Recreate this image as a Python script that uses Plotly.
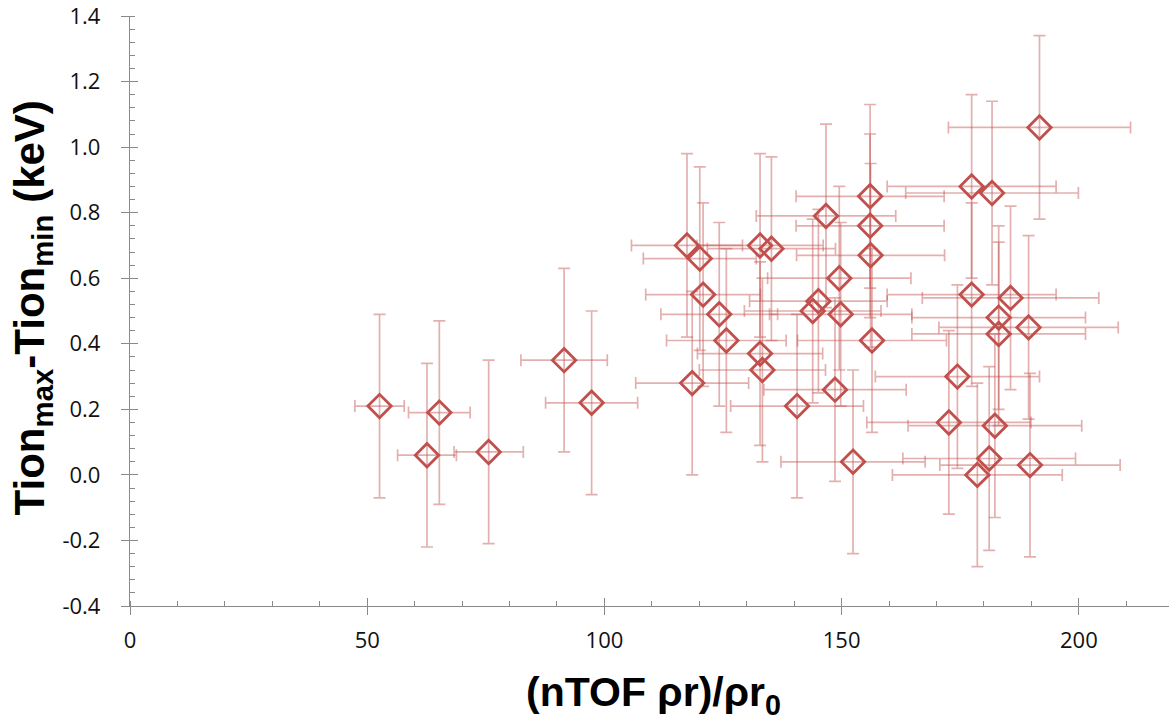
import plotly.graph_objects as go

# Data
x_vals = [52.6, 62.6, 65.2, 75.6, 91.5, 97.3, 117.4, 118.5, 120.1, 120.8,
          124.2, 125.7, 132.8, 135.2, 132.8, 133.3, 140.6, 143.9, 145.1, 146.7,
          148.6, 149.5, 149.8, 152.4, 156.0, 156.0, 156.1, 156.4, 172.6, 174.4,
          177.4, 177.4, 178.6, 181.1, 181.7, 182.3, 183.1, 183.1, 185.6, 189.4,
          189.7, 191.7]
y_vals = [0.21, 0.06, 0.19, 0.07, 0.35, 0.22, 0.70, 0.28, 0.66, 0.55,
          0.49, 0.41, 0.70, 0.69, 0.37, 0.32, 0.21, 0.50, 0.53, 0.79,
          0.26, 0.60, 0.49, 0.04, 0.85, 0.76, 0.67, 0.41, 0.16, 0.30,
          0.88, 0.55, 0.00, 0.05, 0.86, 0.15, 0.48, 0.43, 0.54, 0.45,
          0.03, 1.06]
x_err = [5.2, 6.2, 6.5, 7.3, 9.1, 9.7, 11.7, 11.9, 11.9, 12.1,
         12.3, 12.6, 13.3, 13.5, 13.2, 13.3, 14.0, 14.4, 14.5, 14.7,
         15.0, 15.1, 15.0, 15.2, 15.6, 15.6, 15.6, 15.7, 17.3, 17.3,
         17.8, 17.8, 17.9, 18.2, 18.2, 18.3, 18.3, 18.3, 18.6, 18.9,
         19.0, 19.2]
y_err = [0.28, 0.28, 0.28, 0.28, 0.28, 0.28, 0.28, 0.28, 0.28, 0.28,
         0.28, 0.28, 0.28, 0.28, 0.28, 0.28, 0.28, 0.28, 0.28, 0.28,
         0.28, 0.28, 0.28, 0.28, 0.28, 0.28, 0.28, 0.28, 0.28, 0.28,
         0.28, 0.28, 0.28, 0.28, 0.28, 0.28, 0.28, 0.28, 0.28, 0.28,
         0.28, 0.28]

x_tickvals = [0, 50, 100, 150, 200]
y_tickvals = [-0.4, -0.2, 0.0, 0.2, 0.4, 0.6, 0.8, 1.0, 1.2, 1.4]
y_ticktext = ["-0.4", "-0.2", "0.0", "0.2", "0.4", "0.6", "0.8", "1.0", "1.2", "1.4"]

marker_color = "#C0504D"
err_color = "rgba(192,80,77,0.45)"
axis_color = "#898989"
tick_font = dict(family="Open Sans", size=22, color="#111111")
xtitle_font = dict(family="Liberation Sans, Arial, sans-serif", size=41, color="#000000", weight="bold")
ytitle_font = dict(family="Liberation Sans, Arial, sans-serif", size=42, color="#000000", weight="bold")

fig = go.Figure()
fig.add_trace(go.Scatter(
    x=x_vals, y=y_vals, mode="markers",
    marker=dict(symbol="diamond-open", size=18, color=marker_color,
                line=dict(width=2.8, color=marker_color)),
    error_x=dict(type="data", array=x_err, visible=True, color=err_color,
                 thickness=1.7, width=6),
    error_y=dict(type="data", array=y_err, visible=True, color=err_color,
                 thickness=1.7, width=6),
    showlegend=False, hoverinfo="x+y",
))

fig.update_layout(
    width=1169, height=720,
    margin=dict(l=130, r=0, t=16, b=114, autoexpand=False),
    paper_bgcolor="white", plot_bgcolor="white",
    xaxis=dict(range=[0, 219], tickvals=x_tickvals, ticks="outside", ticklen=8,
               tickwidth=1.3, tickcolor=axis_color, showline=True, linecolor=axis_color,
               linewidth=1.3, showgrid=False, zeroline=False, tickfont=tick_font,
               ticklabelstandoff=6, ticklabeloverflow="allow",
               minor=dict(dtick=10, ticks="inside", ticklen=5, tickwidth=1.3,
                          tickcolor=axis_color, showgrid=False)),
    yaxis=dict(range=[-0.4, 1.40001], tickvals=y_tickvals, ticktext=y_ticktext,
               ticks="outside", ticklen=8, tickwidth=1.3, tickcolor=axis_color,
               showline=True, linecolor=axis_color, linewidth=1.3, showgrid=False,
               zeroline=False, tickfont=tick_font, ticklabelstandoff=16,
               ticklabeloverflow="allow",
               minor=dict(dtick=0.04, tick0=-0.4, ticks="inside", ticklen=5,
                          tickwidth=1.3, tickcolor=axis_color, showgrid=False)),
    xaxis2=dict(overlaying="x", matches="x", anchor="y", side="bottom",
                tickvals=x_tickvals, ticks="inside", ticklen=8, tickwidth=1.3,
                tickcolor=axis_color, showticklabels=False, showline=False,
                showgrid=False, zeroline=False),
    yaxis2=dict(overlaying="y", matches="y", anchor="x", side="left",
                tickvals=y_tickvals, ticks="inside", ticklen=8, tickwidth=1.3,
                tickcolor=axis_color, showticklabels=False, showline=False,
                showgrid=False, zeroline=False),
    annotations=[
        dict(text="(nTOF ρr)/ρr<sub>0</sub>", xref="paper", yref="paper",
             x=0.504, y=-0.15, xanchor="center", yanchor="middle",
             showarrow=False, font=xtitle_font),
        dict(text="Tion<sub>max</sub>-Tion<sub>min</sub> (keV)", xref="paper", yref="paper",
             x=-0.094, y=0.505, xanchor="center", yanchor="middle", textangle=-90,
             showarrow=False, font=ytitle_font),
    ],
)

# invisible trace to activate the overlay axes (tick crossing)
fig.add_trace(go.Scatter(x=[None], y=[None], xaxis="x2", yaxis="y2",
                         showlegend=False, hoverinfo="skip"))

fig.write_html("out.html")
